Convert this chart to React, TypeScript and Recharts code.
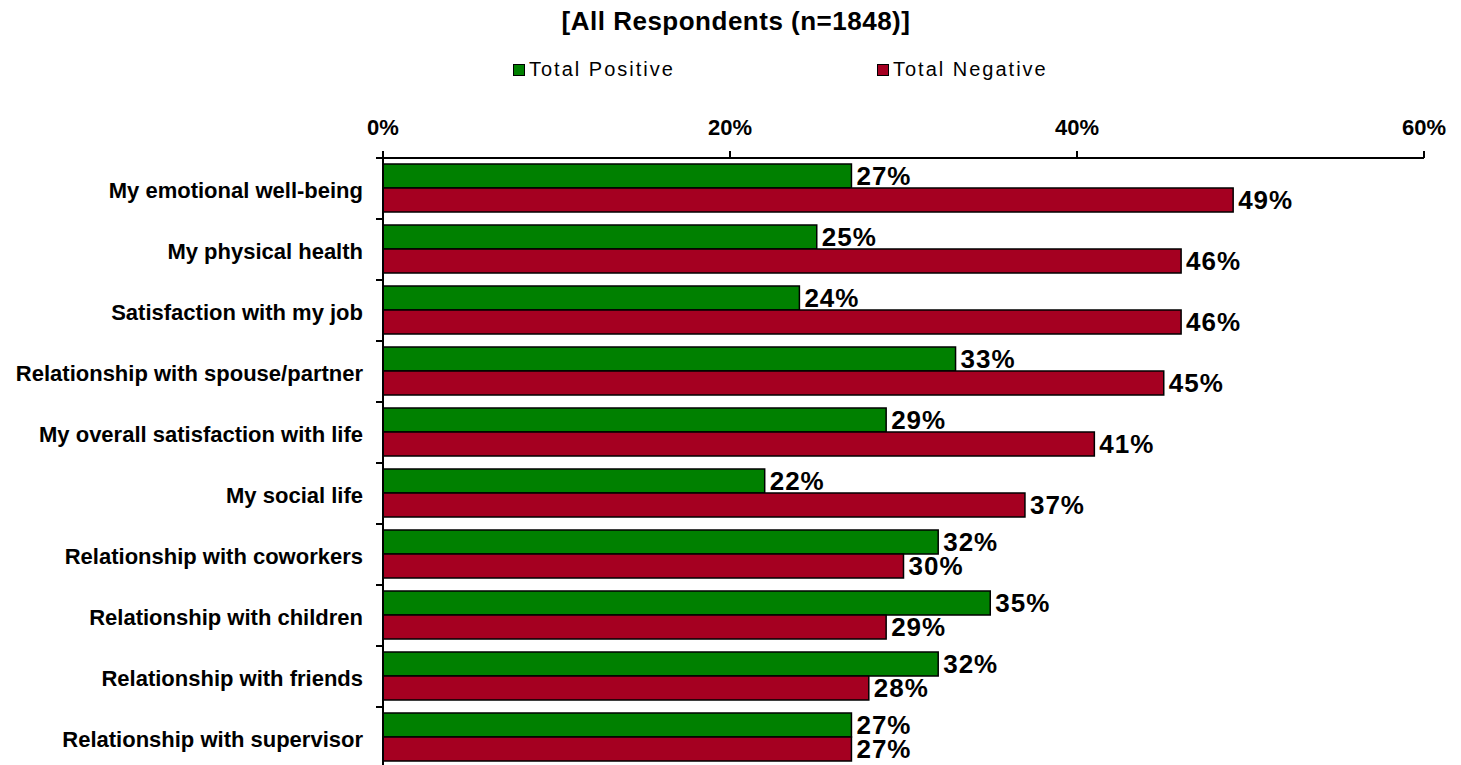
import React from "react";
import { BarChart, Bar, XAxis, YAxis, LabelList } from "recharts";

const categories = [
  "My emotional well-being",
  "My physical health",
  "Satisfaction with my job",
  "Relationship with spouse/partner",
  "My overall satisfaction with life",
  "My social life",
  "Relationship with coworkers",
  "Relationship with children",
  "Relationship with friends",
  "Relationship with supervisor",
];
const totalPositive = [27, 25, 24, 33, 29, 22, 32, 35, 32, 27];
const totalNegative = [49, 46, 46, 45, 41, 37, 30, 29, 28, 27];
const xTicks = [0, 20, 40, 60];

const title = "[All Respondents (n=1848)]";
const POS_COLOR = "#008000";
const NEG_COLOR = "#A50021";
const FONT = "'Liberation Sans', Arial, sans-serif";

const W = 1461;
const H = 780;
const PLOT_LEFT = 383;
const PLOT_TOP = 158;
const PLOT_BOTTOM = 768;
const BAND = (PLOT_BOTTOM - PLOT_TOP) / categories.length;

const data = categories.map((name, i) => ({
  name,
  positive: totalPositive[i],
  negative: totalNegative[i],
}));

const CategoryTick = ({ y, payload }: any) => (
  <g>
    <line x1={PLOT_LEFT - 7} x2={PLOT_LEFT} y1={y - BAND / 2} y2={y - BAND / 2} stroke="#000" strokeWidth={2} />
    <text
      x={PLOT_LEFT - 20}
      y={y}
      dy={9}
      textAnchor="end"
      fontSize={22}
      fontWeight="bold"
      fill="#000"
      fontFamily={FONT}
    >
      {payload.value}
    </text>
  </g>
);

export default function App() {
  return (
    <div
      style={{
        position: "absolute",
        left: 0,
        top: 0,
        width: W,
        height: 765,
        overflow: "hidden",
        background: "#fff",
        fontFamily: FONT,
      }}
    >
      <div
        style={{
          position: "absolute",
          left: 736,
          top: 6,
          transform: "translateX(-50%)",
          fontSize: 26,
          fontWeight: "bold",
          whiteSpace: "nowrap",
          letterSpacing: 0.5,
        }}
      >
        {title}
      </div>
      {[
        { label: "Total Positive", color: POS_COLOR, left: 513 },
        { label: "Total Negative", color: NEG_COLOR, left: 877 },
      ].map((item) => (
        <div
          key={item.label}
          style={{
            position: "absolute",
            left: item.left,
            top: 58,
            display: "flex",
            alignItems: "center",
            fontSize: 20,
            letterSpacing: 2,
            whiteSpace: "nowrap",
          }}
        >
          <span
            style={{
              display: "inline-block",
              width: 10,
              height: 10,
              background: item.color,
              border: "1px solid #000",
              marginRight: 4,
            }}
          />
          {item.label}
        </div>
      ))}
      <div style={{ position: "absolute", left: 0, top: 0 }}>
        <BarChart
          width={W}
          height={H}
          data={data}
          layout="vertical"
          margin={{ top: PLOT_TOP - 30, right: W - 1424, bottom: H - PLOT_BOTTOM, left: 0 }}
          barCategoryGap="10%"
          barGap={0}
        >
          <XAxis
            type="number"
            orientation="top"
            domain={[0, 60]}
            ticks={xTicks}
            tickFormatter={(v: number) => `${v}%`}
            height={30}
            axisLine={{ stroke: "#000", strokeWidth: 2 }}
            tickLine={{ stroke: "#000", strokeWidth: 2 }}
            tickSize={7}
            tickMargin={16}
            tick={{ fontSize: 22, fontWeight: "bold", fill: "#000", fontFamily: FONT }}
            interval={0}
          />
          <YAxis
            type="category"
            dataKey="name"
            width={PLOT_LEFT}
            axisLine={{ stroke: "#000", strokeWidth: 2 }}
            tickLine={false}
            tick={<CategoryTick />}
            interval={0}
          />
          <Bar dataKey="positive" name="Total Positive" fill={POS_COLOR} stroke="#000" strokeWidth={1.5} isAnimationActive={false}>
            <LabelList
              dataKey="positive"
              position="right"
              offset={5}
              formatter={(v: any) => `${v}%`}
              style={{ fontSize: 26, fontWeight: "bold", fill: "#000", fontFamily: FONT, letterSpacing: 1 }}
            />
          </Bar>
          <Bar dataKey="negative" name="Total Negative" fill={NEG_COLOR} stroke="#000" strokeWidth={1.5} isAnimationActive={false}>
            <LabelList
              dataKey="negative"
              position="right"
              offset={5}
              formatter={(v: any) => `${v}%`}
              style={{ fontSize: 26, fontWeight: "bold", fill: "#000", fontFamily: FONT, letterSpacing: 1 }}
            />
          </Bar>
        </BarChart>
      </div>
    </div>
  );
}
